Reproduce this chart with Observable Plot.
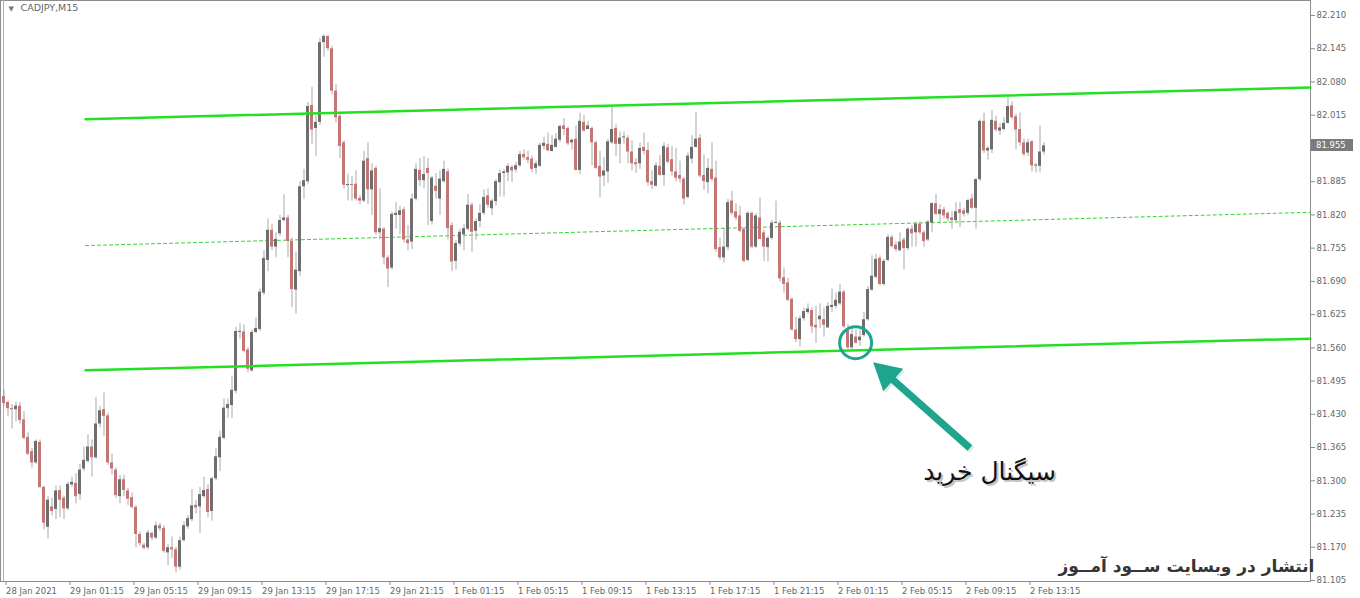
<!DOCTYPE html>
<html><head><meta charset="utf-8">
<script src="https://cdn.jsdelivr.net/npm/d3@7"></script>
<script src="https://cdn.jsdelivr.net/npm/@observablehq/plot@0.6"></script>
<style>html,body{margin:0;padding:0;background:#fff}#chart svg{display:block}</style>
</head><body><div id="chart"></div>
<script>
// ---- DATA (CADJPY M15, one value per bar) ----
const opens = [
81.465,81.453,81.441,81.439,81.446,81.419,81.385,81.357,81.335,81.375,
81.287,81.209,81.249,81.244,81.281,81.266,81.245,81.292,81.295,81.273,
81.323,81.338,81.366,81.345,81.411,81.439,81.427,81.335,81.321,81.269,
81.302,81.280,81.267,81.248,81.195,81.174,81.169,81.197,81.188,81.212,
81.207,81.159,81.169,81.165,81.131,81.183,81.210,81.224,81.252,81.249,
81.269,81.283,81.240,81.304,81.345,81.383,81.441,81.447,81.475,81.590,
81.591,81.556,81.515,81.590,81.596,81.667,81.731,81.790,81.757,81.783,
81.809,81.814,81.768,81.673,81.709,81.875,81.885,82.034,81.989,82.001,
82.157,82.169,82.145,82.062,82.013,81.961,81.878,81.879,81.880,81.852,
81.847,81.930,81.869,81.911,81.785,81.792,81.736,81.716,81.819,81.819,
81.830,81.771,81.767,81.851,81.907,81.887,81.911,81.807,81.876,81.851,
81.885,81.904,81.799,81.729,81.763,81.781,81.792,81.839,81.788,81.807,
81.823,81.857,81.832,81.846,81.883,81.901,81.902,81.913,81.908,81.916,
81.938,81.932,81.929,81.911,81.915,81.954,81.958,81.944,81.952,81.966,
81.994,81.989,81.961,81.968,81.907,82.001,81.987,81.989,81.961,81.915,
81.896,81.904,81.961,81.989,81.958,81.971,81.970,81.943,81.922,81.920,
81.952,81.946,81.885,81.876,81.915,81.897,81.951,81.928,81.904,81.897,
81.890,81.854,81.929,81.952,81.970,81.897,81.883,81.909,81.892,81.756,
81.736,81.756,81.847,81.826,81.818,81.792,81.731,81.823,81.757,81.814,
81.785,81.756,81.774,81.804,81.804,81.697,81.687,81.655,81.595,81.576,
81.617,81.629,81.633,81.604,81.615,81.615,81.599,81.639,81.641,81.646,
81.669,81.594,81.560,81.581,81.574,81.584,81.615,81.673,81.698,81.735,
81.684,81.731,81.776,81.761,81.750,81.771,81.754,81.792,81.785,81.802,
81.785,81.771,81.804,81.842,81.821,81.830,81.823,81.814,81.809,81.830,
81.828,81.823,81.851,81.833,81.889,82.003,81.945,81.947,82.003,81.984,
81.987,81.999,82.033,82.012,81.987,81.961,81.941,81.963,81.916,81.915,
81.943];
const highs = [
81.477,81.456,81.449,81.454,81.453,81.435,81.394,81.363,81.380,81.380,
81.290,81.269,81.266,81.290,81.290,81.270,81.297,81.307,81.314,81.332,
81.366,81.390,81.380,81.463,81.446,81.472,81.432,81.352,81.325,81.311,
81.311,81.285,81.276,81.252,81.200,81.178,81.203,81.200,81.219,81.217,
81.212,81.175,81.190,81.170,81.190,81.220,81.232,81.283,81.262,81.287,
81.307,81.293,81.307,81.363,81.397,81.460,81.460,81.505,81.600,81.608,
81.605,81.560,81.595,81.619,81.675,81.750,81.812,81.802,81.785,81.819,
81.859,81.819,81.775,81.747,81.885,81.909,82.040,82.070,82.013,82.165,
82.172,82.171,82.150,82.075,82.020,81.965,81.900,81.895,81.906,81.858,
81.944,81.961,81.920,81.915,81.871,81.795,81.740,81.825,81.844,81.837,
81.835,81.799,81.861,81.920,81.930,81.934,81.930,81.895,81.901,81.906,
81.925,81.910,81.805,81.770,81.792,81.802,81.860,81.844,81.812,81.840,
81.869,81.871,81.851,81.889,81.908,81.909,81.920,81.916,81.923,81.944,
81.947,81.945,81.935,81.925,81.961,81.972,81.980,81.975,81.979,81.996,
82.008,81.992,81.969,81.994,82.019,82.015,82.003,81.992,81.964,81.944,
81.932,81.968,82.030,81.996,81.982,81.982,81.975,81.965,81.930,81.961,
81.980,81.961,81.906,81.922,81.936,81.961,81.958,81.954,81.950,81.925,
81.893,81.941,81.975,82.020,81.977,81.937,81.930,81.961,81.925,81.774,
81.793,81.850,81.866,81.842,81.837,81.795,81.826,81.826,81.823,81.853,
81.790,81.778,81.809,81.847,81.808,81.716,81.696,81.658,81.620,81.622,
81.638,81.646,81.638,81.641,81.646,81.638,81.648,81.675,81.667,81.684,
81.672,81.605,81.598,81.595,81.595,81.629,81.680,81.740,81.743,81.740,
81.733,81.781,81.780,81.767,81.785,81.775,81.795,81.799,81.806,81.806,
81.789,81.809,81.844,81.860,81.840,81.835,81.826,81.826,81.844,81.844,
81.833,81.851,81.860,81.892,82.006,82.019,81.954,82.024,82.013,81.999,
82.010,82.049,82.041,82.017,82.019,81.968,81.968,81.965,81.920,81.994,
81.961];
const lows = [
81.446,81.425,81.401,81.415,81.411,81.380,81.349,81.325,81.332,81.285,
81.204,81.186,81.231,81.224,81.228,81.224,81.242,81.287,81.255,81.262,
81.318,81.335,81.307,81.342,81.404,81.387,81.330,81.311,81.266,81.255,
81.269,81.252,81.245,81.169,81.172,81.165,81.165,81.183,81.185,81.200,
81.158,81.134,81.148,81.120,81.125,81.180,81.205,81.220,81.235,81.197,
81.266,81.228,81.221,81.300,81.318,81.380,81.422,81.422,81.470,81.577,
81.550,81.511,81.512,81.588,81.592,81.663,81.709,81.750,81.736,81.778,
81.806,81.736,81.639,81.626,81.700,81.851,81.880,81.958,81.934,81.995,
82.128,82.140,82.055,82.000,81.930,81.870,81.847,81.847,81.847,81.840,
81.844,81.840,81.819,81.780,81.771,81.722,81.678,81.712,81.792,81.781,
81.765,81.750,81.752,81.847,81.875,81.871,81.799,81.800,81.851,81.819,
81.882,81.771,81.709,81.712,81.758,81.750,81.788,81.747,81.771,81.795,
81.819,81.833,81.819,81.837,81.855,81.855,81.885,81.883,81.902,81.913,
81.927,81.920,81.902,81.899,81.913,81.947,81.944,81.943,81.951,81.961,
81.975,81.955,81.947,81.906,81.899,81.982,81.986,81.916,81.909,81.853,
81.875,81.882,81.958,81.934,81.920,81.958,81.920,81.906,81.901,81.909,
81.937,81.876,81.869,81.875,81.896,81.876,81.920,81.896,81.885,81.882,
81.839,81.851,81.920,81.951,81.892,81.868,81.861,81.885,81.747,81.731,
81.726,81.750,81.819,81.809,81.785,81.726,81.728,81.754,81.754,81.771,
81.729,81.728,81.771,81.802,81.688,81.667,81.650,81.592,81.570,81.562,
81.612,81.626,81.588,81.569,81.598,81.581,81.598,81.629,81.636,81.643,
81.598,81.556,81.556,81.567,81.563,81.581,81.612,81.670,81.695,81.681,
81.681,81.728,81.755,81.747,81.747,81.712,81.750,81.757,81.757,81.781,
81.757,81.768,81.785,81.819,81.802,81.812,81.806,81.792,81.806,81.795,
81.816,81.819,81.830,81.792,81.885,81.940,81.927,81.940,81.982,81.975,
81.984,81.998,82.006,81.947,81.954,81.934,81.934,81.904,81.902,81.902,
81.937];
const closes = [
81.451,81.441,81.439,81.446,81.418,81.383,81.352,81.335,81.377,81.287,
81.217,81.262,81.240,81.280,81.262,81.245,81.293,81.297,81.269,81.321,
81.340,81.366,81.345,81.411,81.437,81.426,81.335,81.323,81.271,81.302,
81.281,81.264,81.248,81.195,81.177,81.168,81.198,81.188,81.212,81.206,
81.162,81.169,81.165,81.131,81.183,81.212,81.226,81.251,81.247,81.273,
81.281,81.238,81.304,81.347,81.385,81.442,81.449,81.477,81.592,81.592,
81.553,81.518,81.590,81.598,81.669,81.735,81.790,81.757,81.772,81.809,
81.814,81.768,81.674,81.712,81.875,81.887,82.032,81.986,82.001,82.157,
82.169,82.145,82.062,82.010,81.954,81.878,81.879,81.878,81.851,81.847,
81.925,81.869,81.906,81.785,81.793,81.736,81.714,81.821,81.823,81.828,
81.771,81.764,81.851,81.909,81.887,81.899,81.901,81.892,81.866,81.890,
81.909,81.793,81.728,81.764,81.786,81.793,81.839,81.786,81.807,81.823,
81.854,81.839,81.847,81.885,81.901,81.904,81.915,81.906,81.916,81.938,
81.932,81.927,81.909,81.920,81.956,81.960,81.945,81.956,81.968,81.993,
81.987,81.959,81.966,81.907,82.003,81.984,81.994,81.961,81.911,81.894,
81.906,81.963,81.987,81.958,81.970,81.972,81.943,81.920,81.918,81.950,
81.944,81.883,81.878,81.916,81.897,81.954,81.923,81.904,81.892,81.890,
81.851,81.935,81.952,81.968,81.896,81.885,81.911,81.889,81.752,81.736,
81.757,81.844,81.823,81.814,81.788,81.729,81.823,81.757,81.818,81.772,
81.757,81.774,81.804,81.805,81.695,81.684,81.653,81.595,81.576,81.617,
81.631,81.636,81.601,81.599,81.622,81.604,81.641,81.643,81.653,81.669,
81.601,81.560,81.586,81.569,81.581,81.615,81.674,81.700,81.733,81.684,
81.729,81.776,81.758,81.752,81.767,81.754,81.792,81.783,81.802,81.785,
81.768,81.806,81.842,81.821,81.830,81.818,81.812,81.809,81.826,81.823,
81.821,81.848,81.833,81.889,82.003,81.945,81.950,82.005,81.986,81.990,
81.999,82.032,82.010,81.986,81.961,81.938,81.961,81.916,81.917,81.943,
81.955];

const timeTickIndex = [0,16,32,48,64,80,96,112,128,144,160,176,192,208,224,240,256];
const timeTickLabels = ["28 Jan 2021","29 Jan 01:15","29 Jan 05:15","29 Jan 09:15","29 Jan 13:15","29 Jan 17:15","29 Jan 21:15","1 Feb 01:15","1 Feb 05:15","1 Feb 09:15","1 Feb 13:15","1 Feb 17:15","1 Feb 21:15","2 Feb 01:15","2 Feb 05:15","2 Feb 09:15","2 Feb 13:15"];
const priceTicks = [82.210,82.145,82.080,82.015,81.885,81.820,81.755,81.690,81.625,81.560,81.495,81.430,81.365,81.300,81.235,81.170,81.105];
const lastPrice = 81.955;
const symbolTitle = "CADJPY,M15";

// regression channel (ray to the right edge)
const channelX = [20.4, 326.6];
const channelUpper = [82.007, 82.069];
const channelMid = [81.760, 81.825];
const channelLower = [81.516, 81.578];

// annotations
const signalPoint = [{i: 212.9, price: 81.570}];
const arrowTail = {i: 241.6, price: 81.363};
const arrowTip = {i: 217.4, price: 81.531};
const signalLabel = [{i: 246.4, price: 81.318, text: "سیگنال خرید"}];
const watermark = [{i: 295.6, price: 81.133, text: "انتشار در وبسایت ســود آمــوز"}];

// ---- tables built from the arrays ----
const candles = opens.map((o, i) => {
  const c = closes[i];
  const top = Math.max(o, c), bot = Math.min(o, c);
  const mid = (top + bot) / 2, half = Math.max((top - bot) / 2, 0.001);
  return {i, o, c, h: Math.max(highs[i], top), l: Math.min(lows[i], bot), top: mid + half, bot: mid - half, up: c >= o};
});
const line = ys => channelX.map((x, k) => ({x, y: ys[k]}));
const tickLabel = new Map(timeTickIndex.map((t, k) => [t, timeTickLabels[k]]));

const TEAL = "#1fa48d";

function borders(index, scales, values, dimensions) {
  const {width, height, marginRight, marginBottom} = dimensions;
  const right = width - marginRight, bottom = height - marginBottom;
  const g = d3.create("svg:g").attr("fill", "none").attr("stroke", "#8c8c8c").attr("shape-rendering", "crispEdges");
  g.append("rect").attr("x", 0.5).attr("y", 0.5).attr("width", right - 0.5).attr("height", bottom - 0.5);
  g.append("line").attr("x1", 3.5).attr("x2", 3.5).attr("y1", 0).attr("y2", bottom).attr("stroke", "#b0b0b0");
  return g.node();
}

function arrowMark(index, scales) {
  const x1 = scales.x(arrowTail.i), y1 = scales.y(arrowTail.price);
  const x2 = scales.x(arrowTip.i), y2 = scales.y(arrowTip.price);
  const dx = x2 - x1, dy = y2 - y1, len = Math.hypot(dx, dy);
  const ux = dx / len, uy = dy / len, px = -uy, py = ux;
  const headL = 27, headW = 15, shaftW = 3.6;
  const bx = x2 - ux * headL, by = y2 - uy * headL;
  const pts = [
    [x1 + px * shaftW, y1 + py * shaftW],
    [bx + px * shaftW, by + py * shaftW],
    [bx + px * headW, by + py * headW],
    [x2, y2],
    [bx - px * headW, by - py * headW],
    [bx - px * shaftW, by - py * shaftW],
    [x1 - px * shaftW, y1 - py * shaftW]
  ];
  const g = d3.create("svg:g");
  g.append("polygon").attr("points", pts.map(p => p.join(",")).join(" "))
    .attr("fill", "#9fd6cc").attr("opacity", 0.45).attr("transform", "translate(2,2)");
  g.append("polygon").attr("points", pts.map(p => p.join(",")).join(" ")).attr("fill", TEAL);
  return g.node();
}

function priceTag(index, scales, values, dimensions) {
  const {width, marginRight} = dimensions;
  const x0 = width - marginRight;
  const y = scales.y(lastPrice);
  const g = d3.create("svg:g");
  g.append("rect").attr("x", x0 + 1).attr("y", Math.round(y) - 6).attr("width", 42).attr("height", 12).attr("fill", "#7b7b7b");
  g.append("text").attr("x", x0 + 6).attr("y", y).attr("dy", "0.35em").attr("fill", "#fff")
    .attr("text-anchor", "start").attr("font-family", "DejaVu Sans").attr("font-size", 8.5).text(lastPrice.toFixed(3));
  return g.node();
}

const chart = Plot.plot({
  width: 1360, height: 598,
  marginLeft: 0, marginRight: 50, marginTop: 0, marginBottom: 17,
  style: {fontFamily: "DejaVu Sans", fontSize: "8.5px", color: "#5e5e5e", background: "#fff", overflow: "visible"},
  x: {type: "linear", domain: [-0.875, 326.625], axis: null},
  y: {domain: [81.1030, 82.2393], axis: null},
  marks: [
    borders,
    Plot.line(line(channelMid), {x: "x", y: "y", stroke: "#2fd42f", strokeWidth: 1, strokeDasharray: "3,3"}),
    Plot.ruleX(candles, {x: "i", y1: "l", y2: "h", stroke: "#a9a9a9", strokeWidth: 1}),
    Plot.rect(candles.filter(d => d.up), {x1: d => d.i - 0.375, x2: d => d.i + 0.375, y1: "bot", y2: "top", fill: "#6e6e6e"}),
    Plot.rect(candles.filter(d => !d.up), {x1: d => d.i - 0.375, x2: d => d.i + 0.375, y1: "bot", y2: "top", fill: "#c47575"}),
    Plot.line(line(channelUpper), {x: "x", y: "y", stroke: "#22e022", strokeWidth: 2.5}),
    Plot.line(line(channelLower), {x: "x", y: "y", stroke: "#22e022", strokeWidth: 2.5}),
    Plot.dot(signalPoint, {x: "i", y: "price", r: 16, stroke: TEAL, strokeWidth: 3, fill: "none"}),
    arrowMark,
    Plot.text(signalLabel, {x: "i", y: "price", text: "text", dx: 2, dy: 2, fontSize: 25, fill: "#c4c4c4", fontFamily: "DejaVu Sans"}),
    Plot.text(signalLabel, {x: "i", y: "price", text: "text", fontSize: 25, fill: "#111", fontFamily: "DejaVu Sans"}),
    Plot.text(watermark, {x: "i", y: "price", text: "text", fontSize: 17, fontWeight: "bold", fill: "#353535", fontFamily: "DejaVu Sans"}),
    Plot.text(["▼"], {frameAnchor: "top-left", text: d => d, dx: 8, dy: 6, fontSize: 7, fill: "#777"}),
    Plot.text([symbolTitle], {frameAnchor: "top-left", text: d => d, dx: 20, dy: 4, fontSize: 9.5, fill: "#666"}),
    Plot.axisY({anchor: "right", ticks: priceTicks, tickFormat: d => d.toFixed(3), tickSize: 4, tickPadding: 2, stroke: "#8c8c8c", fill: "#666"}),
    Plot.axisX({anchor: "bottom", ticks: timeTickIndex, tickFormat: d => tickLabel.get(d), tickSize: 4, tickPadding: 2, textAnchor: "start", dx: 2, stroke: "#8c8c8c", fill: "#666"}),
    priceTag
  ]
});
document.getElementById("chart").appendChild(chart);
</script>
</body></html>
